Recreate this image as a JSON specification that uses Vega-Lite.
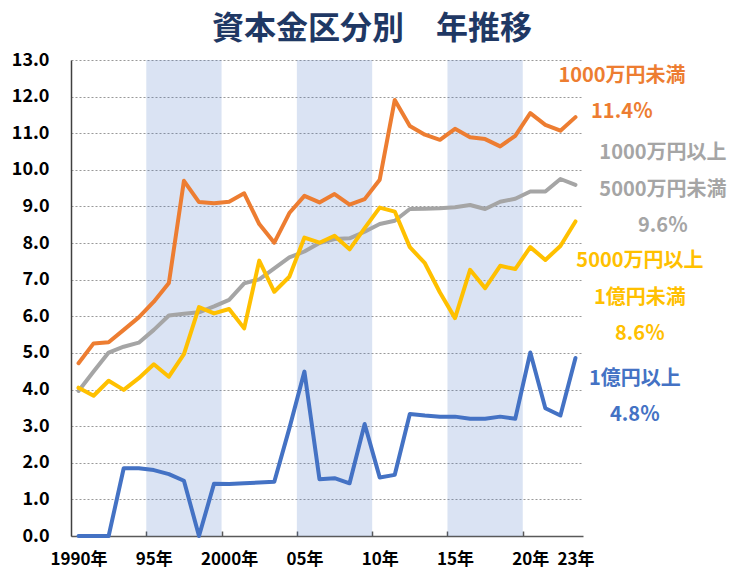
{
  "$schema": "https://vega.github.io/schema/vega-lite/v6.json",
  "width": 512,
  "height": 476,
  "autosize": {"type": "none"},
  "padding": {"left": 71, "top": 60, "right": 148, "bottom": 33},
  "background": "white",
  "title": {
    "text": "資本金区分別　年推移",
    "font": "Noto Sans CJK JP",
    "fontSize": 32,
    "fontWeight": "bold",
    "color": "#1F3864",
    "anchor": "middle",
    "frame": "group",
    "dx": 45,
    "dy": 41,
    "offset": 21,
    "baseline": "alphabetic"
  },
  "config": {"view": {"stroke": null}, "font": "Noto Sans CJK JP"},
  "datasets": {
    "bands": [
      {"start": 1994.5, "end": 1999.5},
      {"start": 2004.5, "end": 2009.5},
      {"start": 2014.5, "end": 2019.5}
    ],
    "series": [
      {"series": "1億円以上", "year": 1990, "value": 0},
      {"series": "1億円以上", "year": 1991, "value": 0},
      {"series": "1億円以上", "year": 1992, "value": 0},
      {"series": "1億円以上", "year": 1993, "value": 1.85},
      {"series": "1億円以上", "year": 1994, "value": 1.85},
      {"series": "1億円以上", "year": 1995, "value": 1.8},
      {"series": "1億円以上", "year": 1996, "value": 1.69},
      {"series": "1億円以上", "year": 1997, "value": 1.51},
      {"series": "1億円以上", "year": 1998, "value": 0},
      {"series": "1億円以上", "year": 1999, "value": 1.43},
      {"series": "1億円以上", "year": 2000, "value": 1.42},
      {"series": "1億円以上", "year": 2001, "value": 1.44},
      {"series": "1億円以上", "year": 2002, "value": 1.46},
      {"series": "1億円以上", "year": 2003, "value": 1.48},
      {"series": "1億円以上", "year": 2004, "value": 2.94},
      {"series": "1億円以上", "year": 2005, "value": 4.49},
      {"series": "1億円以上", "year": 2006, "value": 1.55},
      {"series": "1億円以上", "year": 2007, "value": 1.58},
      {"series": "1億円以上", "year": 2008, "value": 1.44},
      {"series": "1億円以上", "year": 2009, "value": 3.06},
      {"series": "1億円以上", "year": 2010, "value": 1.6},
      {"series": "1億円以上", "year": 2011, "value": 1.67},
      {"series": "1億円以上", "year": 2012, "value": 3.33},
      {"series": "1億円以上", "year": 2013, "value": 3.29},
      {"series": "1億円以上", "year": 2014, "value": 3.26},
      {"series": "1億円以上", "year": 2015, "value": 3.26},
      {"series": "1億円以上", "year": 2016, "value": 3.2},
      {"series": "1億円以上", "year": 2017, "value": 3.2},
      {"series": "1億円以上", "year": 2018, "value": 3.26},
      {"series": "1億円以上", "year": 2019, "value": 3.2},
      {"series": "1億円以上", "year": 2020, "value": 5.01},
      {"series": "1億円以上", "year": 2021, "value": 3.49},
      {"series": "1億円以上", "year": 2022, "value": 3.29},
      {"series": "1億円以上", "year": 2023, "value": 4.86},
      {"series": "1000万円未満", "year": 1990, "value": 4.72},
      {"series": "1000万円未満", "year": 1991, "value": 5.26},
      {"series": "1000万円未満", "year": 1992, "value": 5.29},
      {"series": "1000万円未満", "year": 1993, "value": 5.63},
      {"series": "1000万円未満", "year": 1994, "value": 5.97},
      {"series": "1000万円未満", "year": 1995, "value": 6.4},
      {"series": "1000万円未満", "year": 1996, "value": 6.91},
      {"series": "1000万円未満", "year": 1997, "value": 9.7},
      {"series": "1000万円未満", "year": 1998, "value": 9.12},
      {"series": "1000万円未満", "year": 1999, "value": 9.09},
      {"series": "1000万円未満", "year": 2000, "value": 9.13},
      {"series": "1000万円未満", "year": 2001, "value": 9.36},
      {"series": "1000万円未満", "year": 2002, "value": 8.52},
      {"series": "1000万円未満", "year": 2003, "value": 8.01},
      {"series": "1000万円未満", "year": 2004, "value": 8.82},
      {"series": "1000万円未満", "year": 2005, "value": 9.29},
      {"series": "1000万円未満", "year": 2006, "value": 9.11},
      {"series": "1000万円未満", "year": 2007, "value": 9.34},
      {"series": "1000万円未満", "year": 2008, "value": 9.05},
      {"series": "1000万円未満", "year": 2009, "value": 9.2},
      {"series": "1000万円未満", "year": 2010, "value": 9.73},
      {"series": "1000万円未満", "year": 2011, "value": 11.91},
      {"series": "1000万円未満", "year": 2012, "value": 11.2},
      {"series": "1000万円未満", "year": 2013, "value": 10.96},
      {"series": "1000万円未満", "year": 2014, "value": 10.82},
      {"series": "1000万円未満", "year": 2015, "value": 11.12},
      {"series": "1000万円未満", "year": 2016, "value": 10.89},
      {"series": "1000万円未満", "year": 2017, "value": 10.84},
      {"series": "1000万円未満", "year": 2018, "value": 10.64},
      {"series": "1000万円未満", "year": 2019, "value": 10.93},
      {"series": "1000万円未満", "year": 2020, "value": 11.55},
      {"series": "1000万円未満", "year": 2021, "value": 11.23},
      {"series": "1000万円未満", "year": 2022, "value": 11.07},
      {"series": "1000万円未満", "year": 2023, "value": 11.44},
      {"series": "1000万円以上5000万円未満", "year": 1990, "value": 3.96},
      {"series": "1000万円以上5000万円未満", "year": 1991, "value": 4.49},
      {"series": "1000万円以上5000万円未満", "year": 1992, "value": 5.01},
      {"series": "1000万円以上5000万円未満", "year": 1993, "value": 5.17},
      {"series": "1000万円以上5000万円未満", "year": 1994, "value": 5.28},
      {"series": "1000万円以上5000万円未満", "year": 1995, "value": 5.63},
      {"series": "1000万円以上5000万円未満", "year": 1996, "value": 6.02},
      {"series": "1000万円以上5000万円未満", "year": 1997, "value": 6.07},
      {"series": "1000万円以上5000万円未満", "year": 1998, "value": 6.11},
      {"series": "1000万円以上5000万円未満", "year": 1999, "value": 6.27},
      {"series": "1000万円以上5000万円未満", "year": 2000, "value": 6.45},
      {"series": "1000万円以上5000万円未満", "year": 2001, "value": 6.9},
      {"series": "1000万円以上5000万円未満", "year": 2002, "value": 7.01},
      {"series": "1000万円以上5000万円未満", "year": 2003, "value": 7.31},
      {"series": "1000万円以上5000万円未満", "year": 2004, "value": 7.61},
      {"series": "1000万円以上5000万円未満", "year": 2005, "value": 7.77},
      {"series": "1000万円以上5000万円未満", "year": 2006, "value": 8.0},
      {"series": "1000万円以上5000万円未満", "year": 2007, "value": 8.11},
      {"series": "1000万円以上5000万円未満", "year": 2008, "value": 8.13},
      {"series": "1000万円以上5000万円未満", "year": 2009, "value": 8.31},
      {"series": "1000万円以上5000万円未満", "year": 2010, "value": 8.52},
      {"series": "1000万円以上5000万円未満", "year": 2011, "value": 8.61},
      {"series": "1000万円以上5000万円未満", "year": 2012, "value": 8.93},
      {"series": "1000万円以上5000万円未満", "year": 2013, "value": 8.94},
      {"series": "1000万円以上5000万円未満", "year": 2014, "value": 8.95},
      {"series": "1000万円以上5000万円未満", "year": 2015, "value": 8.98},
      {"series": "1000万円以上5000万円未満", "year": 2016, "value": 9.04},
      {"series": "1000万円以上5000万円未満", "year": 2017, "value": 8.93},
      {"series": "1000万円以上5000万円未満", "year": 2018, "value": 9.13},
      {"series": "1000万円以上5000万円未満", "year": 2019, "value": 9.21},
      {"series": "1000万円以上5000万円未満", "year": 2020, "value": 9.41},
      {"series": "1000万円以上5000万円未満", "year": 2021, "value": 9.41},
      {"series": "1000万円以上5000万円未満", "year": 2022, "value": 9.75},
      {"series": "1000万円以上5000万円未満", "year": 2023, "value": 9.59},
      {"series": "5000万円以上1億円未満", "year": 1990, "value": 4.05},
      {"series": "5000万円以上1億円未満", "year": 1991, "value": 3.83},
      {"series": "5000万円以上1億円未満", "year": 1992, "value": 4.24},
      {"series": "5000万円以上1億円未満", "year": 1993, "value": 3.99},
      {"series": "5000万円以上1億円未満", "year": 1994, "value": 4.31},
      {"series": "5000万円以上1億円未満", "year": 1995, "value": 4.69},
      {"series": "5000万円以上1億円未満", "year": 1996, "value": 4.35},
      {"series": "5000万円以上1億円未満", "year": 1997, "value": 4.97},
      {"series": "5000万円以上1億円未満", "year": 1998, "value": 6.25},
      {"series": "5000万円以上1億円未満", "year": 1999, "value": 6.08},
      {"series": "5000万円以上1億円未満", "year": 2000, "value": 6.2},
      {"series": "5000万円以上1億円未満", "year": 2001, "value": 5.67},
      {"series": "5000万円以上1億円未満", "year": 2002, "value": 7.52},
      {"series": "5000万円以上1億円未満", "year": 2003, "value": 6.67},
      {"series": "5000万円以上1億円未満", "year": 2004, "value": 7.08},
      {"series": "5000万円以上1億円未満", "year": 2005, "value": 8.15},
      {"series": "5000万円以上1億円未満", "year": 2006, "value": 8.01},
      {"series": "5000万円以上1億円未満", "year": 2007, "value": 8.2},
      {"series": "5000万円以上1億円未満", "year": 2008, "value": 7.83},
      {"series": "5000万円以上1億円未満", "year": 2009, "value": 8.41},
      {"series": "5000万円以上1億円未満", "year": 2010, "value": 8.97},
      {"series": "5000万円以上1億円未満", "year": 2011, "value": 8.86},
      {"series": "5000万円以上1億円未満", "year": 2012, "value": 7.89},
      {"series": "5000万円以上1億円未満", "year": 2013, "value": 7.45},
      {"series": "5000万円以上1億円未満", "year": 2014, "value": 6.65},
      {"series": "5000万円以上1億円未満", "year": 2015, "value": 5.95},
      {"series": "5000万円以上1億円未満", "year": 2016, "value": 7.27},
      {"series": "5000万円以上1億円未満", "year": 2017, "value": 6.77},
      {"series": "5000万円以上1億円未満", "year": 2018, "value": 7.38},
      {"series": "5000万円以上1億円未満", "year": 2019, "value": 7.29},
      {"series": "5000万円以上1億円未満", "year": 2020, "value": 7.89},
      {"series": "5000万円以上1億円未満", "year": 2021, "value": 7.54},
      {"series": "5000万円以上1億円未満", "year": 2022, "value": 7.92},
      {"series": "5000万円以上1億円未満", "year": 2023, "value": 8.59}
    ],
    "labels": [
      {"series": "1000万円未満", "year": 2026.09, "value": 12.57, "label": "1000万円未満\n11.4％"},
      {"series": "1000万円以上5000万円未満", "year": 2028.81, "value": 10.46, "label": "1000万円以上\n5000万円未満\n9.6％"},
      {"series": "5000万円以上1億円未満", "year": 2027.28, "value": 7.51, "label": "5000万円以上\n1億円未満\n8.6％"},
      {"series": "1億円以上", "year": 2026.95, "value": 4.29, "label": "1億円以上\n4.8％"}
    ]
  },
  "layer": [
    {
      "data": {"name": "bands"},
      "mark": {"type": "rect", "color": "#4472C4", "opacity": 0.2},
      "encoding": {
        "x": {
          "field": "start",
          "type": "quantitative",
          "scale": {"domain": [1989.5, 2023.5], "nice": false, "zero": false},
          "axis": {
            "orient": "bottom",
            "values": [1994.5, 1999.5, 2004.5, 2009.5, 2014.5, 2019.5],
            "labels": false,
            "grid": false,
            "ticks": true,
            "tickSize": -5,
            "tickColor": "#595959",
            "tickWidth": 1.5,
            "domain": true,
            "domainColor": "#595959",
            "domainWidth": 1.5,
            "title": null
          }
        },
        "x2": {"field": "end"}
      }
    },
    {
      "data": {"name": "series"},
      "mark": {"type": "line", "strokeWidth": 4, "strokeJoin": "round", "strokeCap": "round"},
      "encoding": {
        "x": {
          "field": "year",
          "type": "quantitative",
          "scale": {"domain": [1989.5, 2023.5], "nice": false, "zero": false},
          "axis": {
            "orient": "bottom",
            "values": [1990, 1995, 2000, 2005, 2010, 2015, 2020, 2023],
            "labelExpr": "datum.value == 1990 || datum.value == 2000 ? format(datum.value, 'd') + '年' : substring(format(datum.value, 'd'), 2) + '年'",
            "ticks": false,
            "tickSize": 0,
            "domain": false,
            "grid": false,
            "labelFlush": false,
            "labelOverlap": false,
            "labelPadding": 15,
            "labelFont": "Noto Sans CJK JP",
            "labelFontSize": 17,
            "labelFontWeight": "bold",
            "labelColor": "#000000",
            "title": null
          }
        },
        "y": {
          "field": "value",
          "type": "quantitative",
          "scale": {"domain": [0, 13], "nice": false},
          "axis": {
            "values": [0, 1, 2, 3, 4, 5, 6, 7, 8, 9, 10, 11, 12, 13],
            "format": ".1f",
            "grid": true,
            "gridDash": [2, 2],
            "gridColor": "#999999",
            "gridWidth": 1.2,
            "domain": true,
            "domainColor": "#404040",
            "domainWidth": 1.5,
            "ticks": false,
            "tickSize": 0,
            "labelOverlap": false,
            "labelPadding": 22,
            "labelFont": "Noto Sans CJK JP",
            "labelFontSize": 18,
            "labelFontWeight": "bold",
            "labelColor": "#000000",
            "title": null
          }
        },
        "color": {
          "field": "series",
          "type": "nominal",
          "scale": {
            "domain": ["1億円以上", "1000万円未満", "1000万円以上5000万円未満", "5000万円以上1億円未満"],
            "range": ["#4472C4", "#ED7D31", "#A5A5A5", "#FFC000"]
          },
          "legend": null
        }
      }
    },
    {
      "data": {"name": "labels"},
      "mark": {
        "type": "text",
        "lineBreak": "\n",
        "lineHeight": 36.5,
        "font": "Noto Sans CJK JP",
        "fontSize": 20,
        "fontWeight": "bold",
        "align": "center",
        "baseline": "middle"
      },
      "encoding": {
        "x": {"field": "year", "type": "quantitative", "scale": {"domain": [1989.5, 2023.5], "nice": false, "zero": false}, "axis": null},
        "y": {
          "field": "value",
          "type": "quantitative",
          "scale": {"domain": [0, 13], "nice": false},
          "axis": {
            "values": [0, 1, 2, 3, 4, 5, 6, 7, 8, 9, 10, 11, 12, 13],
            "format": ".1f",
            "grid": true,
            "gridDash": [2, 2],
            "gridColor": "#999999",
            "gridWidth": 1.2,
            "domain": true,
            "domainColor": "#404040",
            "domainWidth": 1.5,
            "ticks": false,
            "tickSize": 0,
            "labelOverlap": false,
            "labelPadding": 22,
            "labelFont": "Noto Sans CJK JP",
            "labelFontSize": 18,
            "labelFontWeight": "bold",
            "labelColor": "#000000",
            "title": null
          }
        },
        "text": {"field": "label"},
        "color": {"field": "series", "type": "nominal", "legend": null}
      }
    }
  ],
  "resolve": {"axis": {"x": "independent"}}
}
